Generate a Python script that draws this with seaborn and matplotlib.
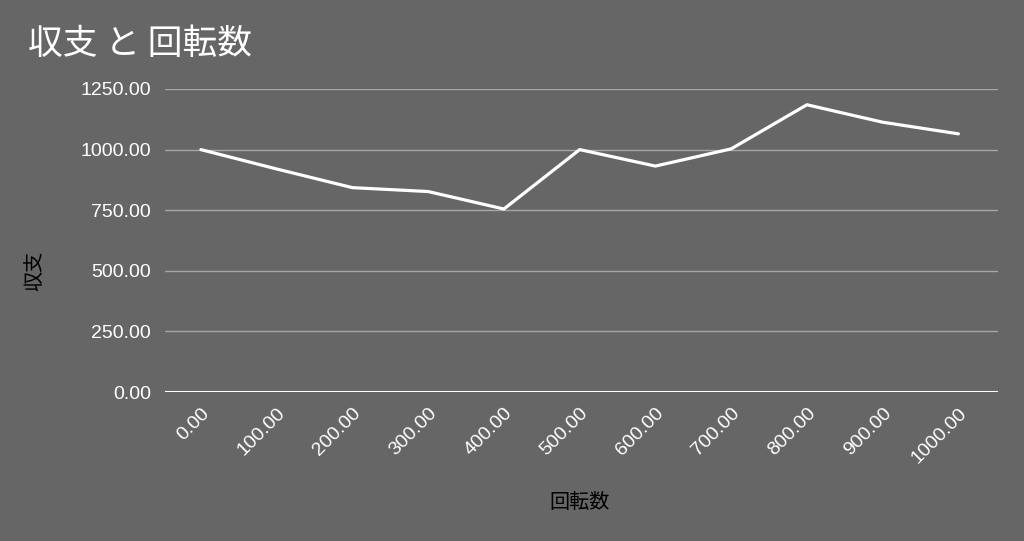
import seaborn as sns
import matplotlib.pyplot as plt
import pandas as pd

# データ
spins = [0, 100, 200, 300, 400, 500, 600, 700, 800, 900, 1000]
balance = [1000, 920, 843, 827, 755, 1000, 932, 1003, 1185, 1113, 1065]
y_ticks = [0, 250, 500, 750, 1000, 1250]

df = pd.DataFrame({'回転数': spins, '収支': balance})

bg = '#666666'
sns.set_theme(style='dark')
plt.rcParams['font.family'] = ['Liberation Sans', 'Noto Sans CJK JP']

fig = plt.figure(figsize=(10.24, 5.41), dpi=100, facecolor=bg)
ax = fig.add_axes([0.161, 0.2754, 0.814, 0.5601])
ax.set_facecolor(bg)

sns.lineplot(data=df, x='回転数', y='収支', ax=ax, color='white', linewidth=2.3)

ax.set_xlim(-47.6, 1052.8)
ax.set_ylim(0, 1250)
ax.set_xticks(spins)
ax.set_yticks(y_ticks)
ax.set_xticklabels([f'{v:.2f}' for v in spins], rotation=45, ha='right',
                   rotation_mode='anchor', color='white', fontsize=14)
ax.set_yticklabels([f'{v:.2f}' for v in y_ticks], color='white', fontsize=14)
ax.tick_params(length=0, axis='y', pad=10)
ax.tick_params(length=0, axis='x', pad=9)

ax.grid(axis='y', color='#a6a6a6', linewidth=1)
ax.grid(axis='x', visible=False)
ax.axhline(0, color='white', linewidth=1.5, zorder=3)
for s in ax.spines.values():
    s.set_visible(False)

ax.set_xlabel('回転数', fontsize=14.5, color='black',
              family=['Noto Sans CJK JP', 'DejaVu Sans'], va='center')
ax.set_ylabel('収支', fontsize=14.5, color='black',
              family=['Noto Sans CJK JP', 'DejaVu Sans'], va='center')
ax.xaxis.set_label_coords(0.498, -0.366)
ax.yaxis.set_label_coords(-0.156, 0.40)

fig.text(0.027, 0.918, '収支 と 回転数', fontsize=25, color='white',
         family=['Noto Sans CJK JP', 'DejaVu Sans'], va='center')

plt.savefig('out.png', dpi=100, facecolor=bg)
